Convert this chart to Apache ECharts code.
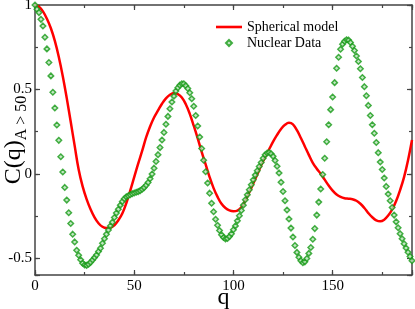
<!DOCTYPE html>
<html><head><meta charset="utf-8">
<script src="https://cdn.jsdelivr.net/npm/echarts@6/dist/echarts.min.js"></script>
<style>html,body{margin:0;padding:0;background:#fff}#c{width:415px;height:309px}</style>
</head><body><div id="c"></div>
<script>
const seriesNames = ['Spherical model', 'Nuclear Data'];
const xTickValues = [0, 50, 100, 150];
const yTickValues = [-0.5, 0, 0.5, 1];

const modelQ = [0,2,4,6,8,10,12,14,16,18,20,22,24,26,28,30,32,34,36,38,40,42,44,46,48,50,52,54,56,58,60,62,64,66,68,70,72,74,76,78,80,82,84,86,88,90,92,94,96,98,100,102,104,106,108,110,112,114,116,118,120,122,124,126,128,130,132,134,136,138,140,142,144,146,148,150,152,154,156,158,160,162,164,166,168,170,172,174,176,178,180,182,184,186,188,190];
const modelC = [1.0,0.99,0.962,0.918,0.862,0.787,0.692,0.578,0.448,0.308,0.165,0.025,-0.075,-0.15,-0.21,-0.258,-0.293,-0.314,-0.322,-0.32,-0.305,-0.276,-0.236,-0.175,-0.1,-0.02,0.06,0.135,0.215,0.28,0.333,0.375,0.415,0.447,0.468,0.478,0.472,0.452,0.412,0.355,0.285,0.21,0.13,0.055,-0.02,-0.085,-0.137,-0.178,-0.203,-0.217,-0.222,-0.218,-0.198,-0.16,-0.11,-0.058,-0.005,0.05,0.1,0.145,0.19,0.23,0.265,0.29,0.302,0.293,0.258,0.212,0.162,0.112,0.065,0.03,0.0,-0.035,-0.07,-0.1,-0.123,-0.137,-0.145,-0.148,-0.151,-0.16,-0.178,-0.203,-0.233,-0.258,-0.276,-0.282,-0.272,-0.248,-0.212,-0.162,-0.097,-0.02,0.08,0.2];

const nuclearQ = [0,1,2,3,4,5,6,7,8,9,10,11,12,13,14,15,16,17,18,19,20,21,22,23,24,25,26,27,28,29,30,31,32,33,34,35,36,37,38,39,40,41,42,43,44,45,46,47,48,49,50,51,52,53,54,55,56,57,58,59,60,61,62,63,64,65,66,67,68,69,70,71,72,73,74,75,76,77,78,79,80,81,82,83,84,85,86,87,88,89,90,91,92,93,94,95,96,97,98,99,100,101,102,103,104,105,106,107,108,109,110,111,112,113,114,115,116,117,118,119,120,121,122,123,124,125,126,127,128,129,130,131,132,133,134,135,136,137,138,139,140,141,142,143,144,145,146,147,148,149,150,151,152,153,154,155,156,157,158,159,160,161,162,163,164,165,166,167,168,169,170,171,172,173,174,175,176,177,178,179,180,181,182,183,184,185,186,187,188,189,190];
const nuclearC = [1.0,0.975,0.955,0.915,0.876,0.809,0.74,0.659,0.58,0.483,0.39,0.289,0.198,0.101,0.01,-0.081,-0.156,-0.231,-0.295,-0.358,-0.404,-0.453,-0.483,-0.51,-0.53,-0.54,-0.543,-0.536,-0.525,-0.511,-0.497,-0.481,-0.461,-0.441,-0.412,-0.385,-0.358,-0.333,-0.309,-0.287,-0.259,-0.233,-0.21,-0.186,-0.165,-0.148,-0.137,-0.13,-0.124,-0.118,-0.114,-0.11,-0.106,-0.1,-0.092,-0.082,-0.068,-0.052,-0.03,-0.002,0.033,0.073,0.113,0.155,0.2,0.245,0.293,0.34,0.385,0.425,0.46,0.49,0.51,0.525,0.533,0.533,0.522,0.505,0.48,0.445,0.4,0.345,0.283,0.218,0.15,0.08,0.012,-0.055,-0.115,-0.175,-0.225,-0.27,-0.305,-0.336,-0.362,-0.378,-0.386,-0.384,-0.372,-0.356,-0.332,-0.309,-0.279,-0.249,-0.218,-0.186,-0.154,-0.125,-0.095,-0.065,-0.036,-0.008,0.018,0.043,0.067,0.092,0.112,0.123,0.126,0.119,0.103,0.079,0.045,0.005,-0.05,-0.105,-0.16,-0.215,-0.268,-0.322,-0.375,-0.425,-0.466,-0.495,-0.515,-0.527,-0.522,-0.502,-0.472,-0.437,-0.388,-0.325,-0.245,-0.168,-0.09,-0.005,0.092,0.19,0.29,0.38,0.455,0.54,0.625,0.69,0.738,0.768,0.785,0.794,0.792,0.778,0.756,0.73,0.698,0.665,0.622,0.57,0.516,0.462,0.405,0.345,0.29,0.24,0.185,0.125,0.07,0.025,-0.025,-0.075,-0.12,-0.16,-0.2,-0.245,-0.285,-0.32,-0.355,-0.385,-0.415,-0.44,-0.465,-0.49,-0.515];

const FONT = 'Liberation Serif';
const AX = '#444';
const RED = '#ff0000';
const GREEN = '#179a17';
const X_MIN = 0, X_MAX = 190, Y_MIN = -0.6, Y_MAX = 1;

function xLabel(v) { return xTickValues.indexOf(v) >= 0 ? String(v) : ''; }
function yLabel(v) {
  for (const t of yTickValues) if (Math.abs(t - v) < 1e-9) return String(t);
  return '';
}

const lineStyleAx = { color: AX, width: 1.5 };
function majorX(pos, labels) {
  return {
    type: 'value', position: pos, min: X_MIN, max: X_MAX, interval: 50,
    axisLine: { show: true, onZero: false, lineStyle: lineStyleAx },
    axisTick: { show: true, inside: true, length: 5, lineStyle: { color: AX, width: 1.2 } },
    axisLabel: labels ? { show: true, fontFamily: FONT, fontSize: 15, color: '#000', margin: 4, formatter: xLabel } : { show: false },
    splitLine: { show: false }
  };
}
function minorX(pos) {
  return {
    type: 'value', position: pos, min: X_MIN, max: X_MAX, interval: 25,
    axisLine: { show: false, onZero: false },
    axisTick: { show: true, inside: true, length: 3, lineStyle: { color: AX, width: 1.2 } },
    axisLabel: { show: false }, splitLine: { show: false }
  };
}
function majorY(pos, labels) {
  return {
    type: 'value', position: pos, min: Y_MIN, max: Y_MAX, splitNumber: 3, minInterval: 0.5, maxInterval: 0.5,
    axisLine: { show: true, onZero: false, lineStyle: lineStyleAx },
    axisTick: { show: true, inside: true, length: 5, lineStyle: { color: AX, width: 1.2 } },
    axisLabel: labels ? { show: true, fontFamily: FONT, fontSize: 15, color: '#000', margin: 3, formatter: yLabel } : { show: false },
    splitLine: { show: false }
  };
}
function minorY(pos) {
  return {
    type: 'value', position: pos, min: Y_MIN, max: Y_MAX, splitNumber: 6, minInterval: 0.25, maxInterval: 0.25,
    axisLine: { show: false, onZero: false },
    axisTick: { show: true, inside: true, length: 3, lineStyle: { color: AX, width: 1.2 } },
    axisLabel: { show: false }, splitLine: { show: false }
  };
}

const xMain = majorX('bottom', true);
xMain.name = 'q';
xMain.nameLocation = 'middle';
xMain.nameGap = 11;
xMain.nameMoveOverlap = false;
xMain.nameTextStyle = { fontFamily: FONT, fontSize: 24, color: '#000' };

const yMain = majorY('left', true);
yMain.name = '{a|C(q)}{b|A > 50}';
yMain.nameLocation = 'middle';
yMain.nameRotate = 90;
yMain.nameGap = 5;
yMain.nameMoveOverlap = false;
yMain.nameTextStyle = {
  color: '#000',
  rich: {
    a: { fontFamily: FONT, fontSize: 24, color: '#000', verticalAlign: 'top', padding: [0, 0, 4, 0] },
    b: { fontFamily: FONT, fontSize: 16, color: '#000', verticalAlign: 'bottom' }
  }
};

const chart = echarts.init(document.getElementById('c'), null, { renderer: 'canvas' });
chart.setOption({
  animation: false,
  backgroundColor: '#fff',
  grid: { left: 35, right: 3, top: 5, bottom: 34, containLabel: false, outerBoundsMode: 'none' },
  legend: {
    show: true, orient: 'vertical', left: 211, top: 15,
    itemWidth: 26, itemHeight: 6, itemGap: 2,
    textStyle: { fontFamily: FONT, fontSize: 14, color: '#000' },
    data: [
      { name: seriesNames[0], icon: 'path://M0,0H26V2.6H0Z', itemStyle: { color: RED, borderWidth: 0 } },
      { name: seriesNames[1], icon: 'path://M0,-1L1,0L0,1L-1,0Z' }
    ]
  },
  xAxis: [xMain, majorX('top', false), minorX('bottom'), minorX('top')],
  yAxis: [yMain, majorY('right', false), minorY('left'), minorY('right')],
  series: [
    {
      name: seriesNames[0], type: 'line', xAxisIndex: 0, yAxisIndex: 0,
      data: modelQ.map((q, i) => [q, modelC[i]]),
      smooth: 0.4, symbol: 'none', showSymbol: false,
      lineStyle: { color: RED, width: 2.5 }, itemStyle: { color: RED }, z: 3
    },
    {
      name: seriesNames[1], type: 'scatter', xAxisIndex: 0, yAxisIndex: 0,
      data: nuclearQ.map((q, i) => [q, nuclearC[i]]),
      symbol: 'diamond', symbolSize: 5.5,
      itemStyle: { color: '#b5e2b5', borderColor: GREEN, borderWidth: 1.5 }, z: 4
    }
  ]
});
</script></body></html>
